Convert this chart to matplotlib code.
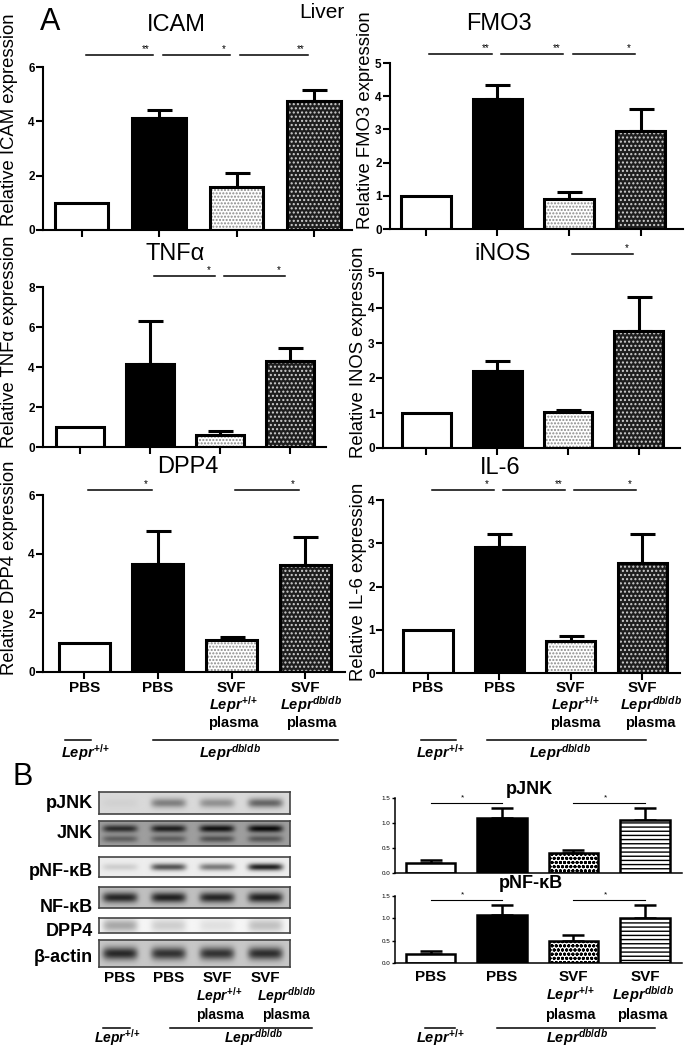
import numpy as np
import matplotlib
matplotlib.use('Agg')
import matplotlib.pyplot as plt
from matplotlib.transforms import blended_transform_factory

plt.rcParams['font.family'] = ['Liberation Sans', 'DejaVu Sans']
plt.rcParams['mathtext.fontset'] = 'custom'
plt.rcParams['mathtext.it'] = 'Liberation Sans:italic:bold'
plt.rcParams['mathtext.rm'] = 'Liberation Sans:bold'
plt.rcParams['hatch.linewidth'] = 1.0

# ---------------- data ----------------
groups = ['PBS', 'PBS', 'SVF', 'SVF']
donor = ['', '', '+/+', 'db/db']

icam_mean = [1.0, 4.12, 1.58, 4.74]
icam_err = [0.0, 0.29, 0.51, 0.41]
fmo3_mean = [1.0, 3.92, 0.90, 2.95]
fmo3_err = [0.0, 0.42, 0.21, 0.66]
tnfa_mean = [1.0, 4.15, 0.62, 4.30]
tnfa_err = [0.0, 2.15, 0.17, 0.63]
inos_mean = [1.0, 2.20, 1.02, 3.34]
inos_err = [0.0, 0.29, 0.07, 0.96]
dpp4_mean = [1.0, 3.66, 1.08, 3.63]
dpp4_err = [0.0, 1.13, 0.12, 0.96]
il6_mean = [1.0, 2.91, 0.74, 2.54]
il6_err = [0.0, 0.30, 0.12, 0.67]
pjnk_mean = [0.20, 1.10, 0.40, 1.07]
pjnk_err = [0.06, 0.20, 0.07, 0.23]
pnfkb_mean = [0.20, 1.07, 0.50, 1.00]
pnfkb_err = [0.06, 0.22, 0.12, 0.29]

icam_sig = [(0, 1, '**'), (1, 2, '*'), (2, 3, '**')]
fmo3_sig = [(0, 1, '**'), (1, 2, '**'), (2, 3, '*')]
tnfa_sig = [(1, 2, '*'), (2, 3, '*')]
inos_sig = [(2, 3, '*')]
dpp4_sig = [(0, 1, '*'), (2, 3, '*')]
il6_sig = [(0, 1, '*'), (1, 2, '**'), (2, 3, '*')]
pjnk_sig = [(0, 1, '*'), (2, 3, '*')]
pnfkb_sig = [(0, 1, '*'), (2, 3, '*')]

# western blot band darkness per lane
blot_pjnk = [0.03, 0.35, 0.28, 0.45]
blot_jnk_up = [0.45, 0.50, 0.55, 0.58]
blot_jnk_low = [0.25, 0.25, 0.30, 0.28]
blot_pnfkb = [0.12, 0.60, 0.45, 0.80]
blot_nfkb = [0.60, 0.62, 0.60, 0.62]
blot_dpp4 = [0.30, 0.15, 0.08, 0.20]
blot_actin = [0.62, 0.58, 0.58, 0.60]

# ---------------- figure ----------------
W, H = 685, 1051
fig = plt.figure(figsize=(W / 100, H / 100), dpi=100)


def px_axes(l, t, r, b):
    return fig.add_axes([l / W, 1 - b / H, (r - l) / W, (b - t) / H])


def fx(px):
    return px / W


def fy(py):
    return 1 - py / H


styles_a = [dict(face='white'),
            dict(face='black'),
            dict(face='white', hatch='.....', hc='#8a8a8a'),
            dict(face='#1e1e1e', hatch='....', hc='#d0d0d0')]
styles_b = [dict(face='white'),
            dict(face='black'),
            dict(face='white', hatch='oooo', hc='black'),
            dict(face='white', hatch='----', hc='black')]


def bar_panel(ax, means, errs, styles, lw, elw, cap):
    x = np.arange(len(means))
    for i, st in enumerate(styles):
        ax.bar(x[i], means[i], width=0.69, color=st['face'], hatch=st.get('hatch'),
               edgecolor=st.get('hc', 'black'), linewidth=0, zorder=2)
        ax.bar(x[i], means[i], width=0.69, fill=False, edgecolor='black',
               linewidth=lw, zorder=3)
    e = np.array(errs)
    m = e > 0
    ax.errorbar(x[m], np.array(means)[m], yerr=[np.zeros(m.sum()), e[m]], fmt='none',
                ecolor='black', elinewidth=elw, capsize=cap, capthick=elw, zorder=1)


def sig_marks(ax, sig, y, star_mid=False, fs=7):
    tr = blended_transform_factory(ax.transData, ax.transAxes)
    for i, j, s in sig:
        if star_mid:
            ax.plot([i, j], [y, y], color='black', lw=0.8, transform=tr, clip_on=False)
            ax.text((i + j) / 2 - 0.05, y + 0.02, s, ha='center', va='bottom', fontsize=fs,
                    transform=tr)
        else:
            ax.plot([i + 0.05, j - 0.08], [y, y], color='black', lw=1.1, transform=tr,
                    clip_on=False)
            ax.text(j - 0.17, y + 0.005, s, ha='center', va='bottom', fontsize=fs,
                    transform=tr)


panels = [
    # box (l,t,r,b), xlim, ymax, yticks, title, title xy, ylabel, ylabel xy, mean, err, sig, sig_y
    ((43, 67, 352, 230), (-0.50, 3.49), 6, [0, 2, 4, 6], 'ICAM', (176, 25),
     'Relative ICAM expression', (10, 120), icam_mean, icam_err, icam_sig, 1.072),
    ((390, 63, 683, 229), (-0.50, 3.59), 5, [0, 1, 2, 3, 4, 5], 'FMO3', (499, 24),
     'Relative FMO3 expression', (365, 120), fmo3_mean, fmo3_err, fmo3_sig, 1.054),
    ((43, 287, 326, 447), (-0.53, 3.51), 8, [0, 2, 4, 6, 8], 'TNFα', (175, 254),
     'Relative TNFα expression', (10, 342), tnfa_mean, tnfa_err, tnfa_sig, 1.069),
    ((383, 273, 680, 448), (-0.61, 3.58), 5, [0, 1, 2, 3, 4, 5], 'iNOS', (503, 254),
     'Relative INOS expression', (358, 352), inos_mean, inos_err, inos_sig, 1.108),
    ((43, 495, 345, 672), (-0.56, 3.54), 6, [0, 2, 4, 6], 'DPP4', (188, 467),
     'Relative DPP4 expression', (10, 568), dpp4_mean, dpp4_err, dpp4_sig, 1.028),
    ((383, 500, 680, 673), (-0.63, 3.53), 4, [0, 1, 2, 3, 4], 'IL-6', (500, 468),
     'Relative IL-6 expression', (358, 582), il6_mean, il6_err, il6_sig, 1.058),
]

axes_a = []
for box, xl, ymax, yt, title, txy, ylab, lxy, mean, err, sig, sy in panels:
    ax = px_axes(*box)
    bar_panel(ax, mean, err, styles_a, lw=2.2, elw=2.2, cap=9)
    ax.set_xlim(*xl)
    ax.set_ylim(0, ymax)
    ax.set_yticks(yt)
    ax.set_xticks(range(4))
    ax.set_xticklabels([])
    for s in ['top', 'right']:
        ax.spines[s].set_visible(False)
    for s in ['left', 'bottom']:
        ax.spines[s].set_linewidth(1.5)
    ax.tick_params(direction='out', length=5, width=1.5, labelsize=8.5, pad=1)
    for t in ax.get_yticklabels():
        t.set_fontweight('bold')
    sig_marks(ax, sig, sy)
    fig.text(fx(txy[0]), fy(txy[1]), title, ha='center', va='center', fontsize=17)
    fig.text(fx(lxy[0]), fy(lxy[1]), ylab, ha='center', va='center', rotation=90,
             fontsize=13.3)
    axes_a.append(ax)

fig.text(fx(50), fy(22), 'A', ha='center', va='center', fontsize=22)
fig.text(fx(322), fy(12), 'Liver', ha='center', va='center', fontsize=15)

PLUS = r'\text{+/+}'


def under_labels(ax, rows, donor_x, short, long_, short_lab, long_lab, fs=11, fs2=10.5):
    # rows: PBS centre, Lepr baseline, plasma baseline, line, group label baseline (px)
    tr = blended_transform_factory(ax.transData, fig.transFigure)
    for i, g in enumerate(groups):
        ax.text(i, fy(rows[0]), g, ha='center', va='center', fontsize=fs,
                fontweight='bold', transform=tr)
        if donor[i]:
            sup = PLUS if donor[i] == '+/+' else donor[i]
            ax.text(donor_x[i], fy(rows[1]), r'$Lepr^{%s}$' % sup, ha='center',
                    va='baseline', fontsize=fs2, transform=tr)
            ax.text(donor_x[i], fy(rows[2]), 'plasma', ha='center', va='baseline',
                    fontsize=fs2, fontweight='bold', transform=tr)
    for (x0, x1), lx, sup in [(short, short_lab, PLUS), (long_, long_lab, 'db/db')]:
        ax.plot([x0, x1], [fy(rows[3])] * 2, color='black', lw=1.1, transform=tr,
                clip_on=False)
        ax.text(lx, fy(rows[4]), r'$Lepr^{%s}$' % sup, ha='center', va='baseline',
                fontsize=fs2, transform=tr)


under_labels(axes_a[4], (688, 710, 727, 740, 758), [0, 1, 2.03, 3.08],
             (-0.26, 0.09), (0.94, 3.45), 0.01, 1.98)
under_labels(axes_a[5], (688, 710, 727, 740, 758), [0, 1, 2.06, 3.12],
             (-0.10, 0.39), (0.83, 3.06), 0.17, 1.85)

# ---------------- panel B ----------------
fig.text(fx(23), fy(777), 'B', ha='center', va='center', fontsize=22)

blot_rows = [
    ('pJNK', (792, 814), 0.85, [(blot_pjnk, 0.5, 0.22)], 803),
    ('JNK', (821, 846), 0.62, [(blot_jnk_up, 0.70, 0.15), (blot_jnk_low, 0.28, 0.14)], 834),
    ('pNF-κB', (857, 877), 0.93, [(blot_pnfkb, 0.5, 0.18)], 871),
    ('NF-κB', (887, 908), 0.75, [(blot_nfkb, 0.5, 0.25)], 908),
    ('DPP4', (918, 933), 0.96, [(blot_dpp4, 0.5, 0.45)], 932),
    ('β-actin', (940, 967), 0.78, [(blot_actin, 0.5, 0.24)], 957),
]
xs = np.linspace(-0.43, 3.5, 260)
ys = np.linspace(0, 1, 40)
X, Y = np.meshgrid(xs, ys)
blot_ax = None
for name, (t, b), bg, bands, ly in blot_rows:
    ax = px_axes(99, t, 290, b)
    img = np.full(X.shape, bg)
    for vals, yc, ysd in bands:
        for i, v in enumerate(vals):
            img -= v * np.exp(-((X - i) / 0.36) ** 6) * np.exp(-((Y - yc) / ysd) ** 2)
    ax.imshow(np.clip(img, 0, 1), cmap='gray', vmin=0, vmax=1, origin='lower',
              extent=[-0.43, 3.5, 0, 1], aspect='auto', interpolation='bilinear')
    ax.set_xlim(-0.43, 3.5)
    ax.set_xticks([])
    ax.set_yticks([])
    for s in ax.spines.values():
        s.set_color('#444444')
        s.set_linewidth(1.2)
    fig.text(fx(93), fy(ly), name, ha='right', va='center', fontsize=13, fontweight='bold')
    blot_ax = ax

under_labels(blot_ax, (978, 1001, 1019, 1028, 1043), [0, 1, 2.05, 3.42],
             (-0.35, 0.21), (1.03, 3.95), -0.06, 2.74, fs2=10)

b_panels = [
    ((395, 798, 682, 873), 'pJNK', (529, 790), pjnk_mean, pjnk_err, pjnk_sig, 0.933),
    ((395, 896, 682, 963), 'pNF-κB', (531, 883), pnfkb_mean, pnfkb_err, pnfkb_sig, 0.94),
]
axes_b = []
for box, title, txy, mean, err, sig, sy in b_panels:
    ax = px_axes(*box)
    bar_panel(ax, mean, err, styles_b, lw=1.8, elw=1.8, cap=8)
    ax.set_xlim(-0.5, 3.52)
    ax.set_ylim(0, 1.5)
    ax.set_yticks([0, 0.5, 1.0, 1.5])
    ax.set_yticklabels(['0.0', '0.5', '1.0', '1.5'])
    ax.set_xticks([])
    for s in ['top', 'right']:
        ax.spines[s].set_visible(False)
    for s in ['left', 'bottom']:
        ax.spines[s].set_linewidth(1.1)
    ax.tick_params(direction='out', length=2.5, width=1, labelsize=4.5, pad=1)
    sig_marks(ax, sig, sy, star_mid=True, fs=6)
    fig.text(fx(txy[0]), fy(txy[1]), title, ha='center', va='center', fontsize=13,
             fontweight='bold')
    axes_b.append(ax)

under_labels(axes_b[1], (977, 1000, 1019, 1028, 1043), [0, 1, 1.95, 2.97],
             (-0.08, 0.34), (0.93, 3.14), 0.14, 2.05)

fig.savefig('out.png', dpi=100, facecolor='white')
